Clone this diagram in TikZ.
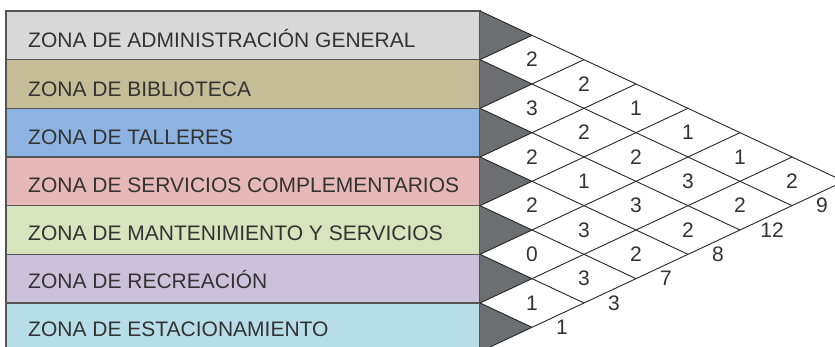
\documentclass[tikz,border=0pt]{standalone}
\usepackage{fontspec}
\setmainfont{Liberation Sans}
\usepackage{tikz}

\definecolor{zadmin}{HTML}{D9D9D9}
\definecolor{zbiblio}{HTML}{C4BD97}
\definecolor{ztaller}{HTML}{8DB3E2}
\definecolor{zservic}{HTML}{E6B9B8}
\definecolor{zmante}{HTML}{D7E4BD}
\definecolor{zrecrea}{HTML}{CCC1DA}
\definecolor{zestac}{HTML}{B7DEE8}
\definecolor{borde}{HTML}{555555}
\definecolor{letra}{HTML}{333333}
\definecolor{cuna}{HTML}{6D6E71}

\tikzset{
  zona/.style={draw=borde, line width=1.2pt, anchor=north west, inner sep=0pt,
    outer sep=0pt, minimum width=474pt, minimum height=48.67pt},
  rotulo/.style={anchor=base west, inner sep=0pt, text=letra,
    font=\fontsize{21}{25}\selectfont},
  cifra/.style={inner sep=0pt, text=letra, font=\fontsize{21}{25}\selectfont},
  tri/.style={fill=cuna},
  rejilla/.style={draw=black!85, line width=0.9pt},
}

\begin{document}
\begin{tikzpicture}[x=1pt,y=-1pt]
    \useasboundingbox (0,0) rectangle (835,347);
    \clip (0,0) rectangle (835,347);

    % zonas
    \node[zona, fill=zadmin] (z0) at (6,11) {};
    \node[zona, fill=zbiblio] (z1) at (z0.south west) {};
    \node[zona, fill=ztaller] (z2) at (z1.south west) {};
    \node[zona, fill=zservic] (z3) at (z2.south west) {};
    \node[zona, fill=zmante] (z4) at (z3.south west) {};
    \node[zona, fill=zrecrea] (z5) at (z4.south west) {};
    \node[zona, fill=zestac] (z6) at (z5.south west) {};

    \node[rotulo] (t0) at ([xshift=22pt,yshift=12pt]z0.south west) {ZONA DE ADMINISTRACIÓN GENERAL};
    \node[rotulo] (t1) at ([xshift=22pt,yshift=12pt]z1.south west) {ZONA DE BIBLIOTECA};
    \node[rotulo] (t2) at ([xshift=22pt,yshift=12.7pt]z2.south west) {ZONA DE TALLERES};
    \node[rotulo] (t3) at ([xshift=22pt,yshift=13.4pt]z3.south west) {ZONA DE SERVICIOS COMPLEMENTARIOS};
    \node[rotulo] (t4) at ([xshift=22pt,yshift=13.6pt]z4.south west) {ZONA DE MANTENIMIENTO Y SERVICIOS};
    \node[rotulo] (t5) at ([xshift=22pt,yshift=14.6pt]z5.south west) {ZONA DE RECREACIÓN};
    \node[rotulo] (t6) at ([xshift=22pt,yshift=15pt]z6.south west) {ZONA DE ESTACIONAMIENTO};

    % matriz
    \begin{scope}[shift={(480,11)}, x=52pt, y=-24.333pt]
    \fill[tri] (0,0) -- (1,1) -- (0,2) -- cycle;
    \fill[tri] (0,2) -- (1,3) -- (0,4) -- cycle;
    \fill[tri] (0,4) -- (1,5) -- (0,6) -- cycle;
    \fill[tri] (0,6) -- (1,7) -- (0,8) -- cycle;
    \fill[tri] (0,8) -- (1,9) -- (0,10) -- cycle;
    \fill[tri] (0,10) -- (1,11) -- (0,12) -- cycle;
    \fill[tri] (0,12) -- (1,13) -- (0,14) -- cycle;

    \draw[rejilla] (0,0) -- (7,7);
    \draw[rejilla] (0,2) -- (6,8);   \draw[rejilla] (0,2) -- (1,1);
    \draw[rejilla] (0,4) -- (5,9);   \draw[rejilla] (0,4) -- (2,2);
    \draw[rejilla] (0,6) -- (4,10);  \draw[rejilla] (0,6) -- (3,3);
    \draw[rejilla] (0,8) -- (3,11);  \draw[rejilla] (0,8) -- (4,4);
    \draw[rejilla] (0,10) -- (2,12); \draw[rejilla] (0,10) -- (5,5);
    \draw[rejilla] (0,12) -- (1,13); \draw[rejilla] (0,12) -- (6,6);
    \draw[rejilla] (0,14) -- (7,7);

    \node[cifra] (c01) at (1,2) {2};
    \node[cifra] (c12) at (1,4) {3};
    \node[cifra] (c23) at (1,6) {2};
    \node[cifra] (c34) at (1,8) {2};
    \node[cifra] (c45) at (1,10) {0};
    \node[cifra] (c56) at (1,12) {1};
    \node[cifra] (c02) at (2,3) {2};
    \node[cifra] (c13) at (2,5) {2};
    \node[cifra] (c24) at (2,7) {1};
    \node[cifra] (c35) at (2,9) {3};
    \node[cifra] (c46) at (2,11) {3};
    \node[cifra] (c03) at (3,4) {1};
    \node[cifra] (c14) at (3,6) {2};
    \node[cifra] (c25) at (3,8) {3};
    \node[cifra] (c36) at (3,10) {2};
    \node[cifra] (c04) at (4,5) {1};
    \node[cifra] (c15) at (4,7) {3};
    \node[cifra] (c26) at (4,9) {2};
    \node[cifra] (c05) at (5,6) {1};
    \node[cifra] (c16) at (5,8) {2};
    \node[cifra] (c06) at (6,7) {2};

    \node[cifra, xshift=30pt] (s5) at (1,13) {1};
    \node[cifra, xshift=30pt] (s4) at (2,12) {3};
    \node[cifra, xshift=30pt] (s3) at (3,11) {7};
    \node[cifra, xshift=30pt] (s2) at (4,10) {8};
    \node[cifra, xshift=32pt] (s1) at (5,9) {12};
    \node[cifra, xshift=30pt] (s0) at (6,8) {9};
    \end{scope}
\end{tikzpicture}
\end{document}
